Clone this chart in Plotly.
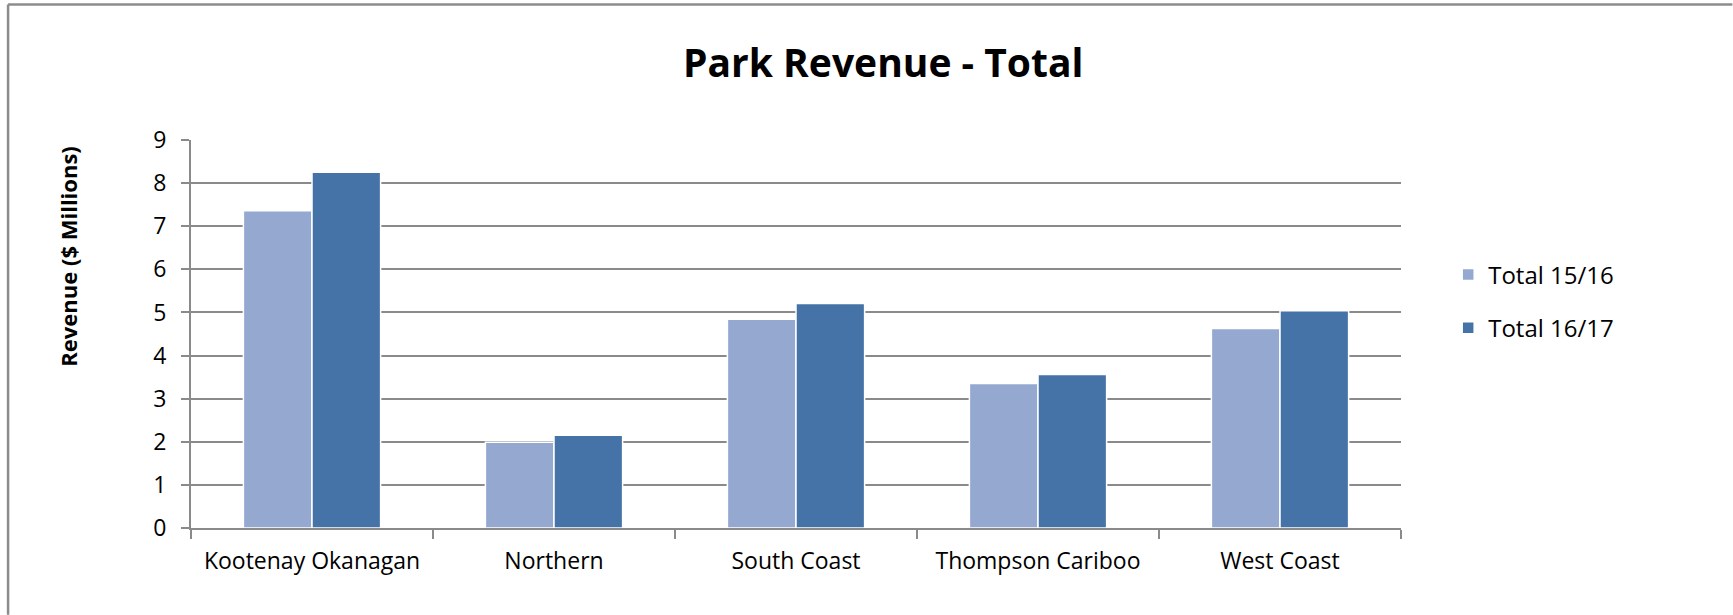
import plotly.graph_objects as go

categories = ["Kootenay Okanagan", "Northern", "South Coast", "Thompson Cariboo", "West Coast"]
total_1516 = [7.36, 1.99, 4.84, 3.35, 4.63]
total_1617 = [8.25, 2.15, 5.21, 3.56, 5.04]
series_names = ["Total 15/16", "Total 16/17"]
y_ticks = [0, 1, 2, 3, 4, 5, 6, 7, 8, 9]

FONT = "Open Sans"
GRID = "#8a8a8a"

L, T, PW, PH = 191, 140.4, 1210.5, 387.9

fig = go.Figure()
fig.add_trace(go.Bar(x=categories, y=total_1516, name=series_names[0],
                     marker=dict(color="#95a9d0", line=dict(color="white", width=1.5)),
                     legendgroup="a"))
fig.add_trace(go.Bar(x=categories, y=total_1617, name=series_names[1],
                     marker=dict(color="#4573a7", line=dict(color="white", width=1.5)),
                     legendgroup="b"))

fig.update_layout(
    width=1733, height=615,
    margin=dict(l=L, r=1733 - L - PW, t=T, b=615 - T - PH),
    paper_bgcolor="white", plot_bgcolor="white",
    font=dict(family=FONT, color="black", size=23),
    barmode="group", bargap=0.433, bargroupgap=0.0,
    title=dict(text="<b>Park Revenue - Total</b>", x=(883.5 - 191) / PW, xref="paper",
               xanchor="center", y=(615 - 63) / 615, yanchor="middle", yref="container",
               font=dict(family=FONT, size=39, color="black")),
    legend=dict(x=1.039, xanchor="left", y=0.71, yanchor="top", tracegroupgap=19,
                font=dict(family=FONT, size=24), bgcolor="rgba(0,0,0,0)"),
    showlegend=True,
)

fig.update_xaxes(
    type="category", tickson="boundaries", ticks="outside", ticklen=9, tickwidth=2,
    tickcolor=GRID, showline=True, linecolor=GRID, linewidth=2, showgrid=False,
    tickfont=dict(family=FONT, size=23), ticklabelstandoff=11,
)
fig.update_yaxes(
    range=[0, 9], tickvals=y_ticks, ticks="outside", ticklen=8, tickwidth=2, tickcolor=GRID,
    showline=True, linecolor=GRID, linewidth=2, showgrid=True, gridcolor=GRID, gridwidth=2,
    zeroline=False, tickfont=dict(family=FONT, size=23), ticklabelstandoff=10,
)

fig.add_annotation(text="<b>Revenue ($ Millions)</b>", textangle=-90, xref="paper", yref="paper",
                   x=(68 - 191) / PW, y=(528.3 - 257) / PH, xanchor="center", yanchor="middle",
                   showarrow=False, font=dict(family=FONT, size=22, color="black"))

# outer chart border (top and left visible)
bx = (8 - 191) / PW
by = (528.3 - 5) / PH
fig.add_shape(type="line", xref="paper", yref="paper", x0=bx, x1=(1733 - 191) / PW, y0=by, y1=by,
              line=dict(color="#8c8c8c", width=2.5))
fig.add_shape(type="line", xref="paper", yref="paper", x0=bx, x1=bx, y0=by, y1=(528.3 - 615) / PH,
              line=dict(color="#8c8c8c", width=2.5))

fig.write_html("out.html", config={"displayModeBar": False},
               post_script="document.body.style.margin='0';document.body.style.overflow='hidden';"
                           "document.documentElement.style.overflow='hidden';")
